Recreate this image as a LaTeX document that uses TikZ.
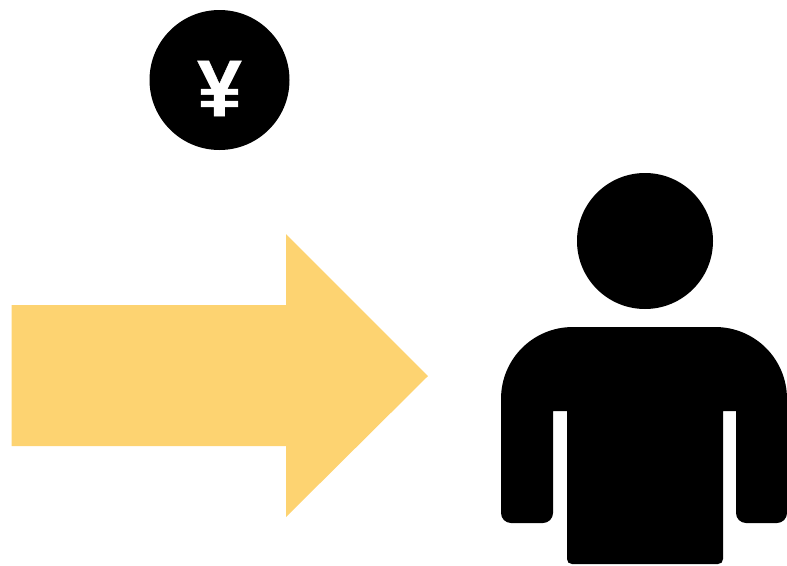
\documentclass[tikz,border=0pt]{standalone}
\usepackage{fontspec}
\setmainfont{Liberation Sans}
\newfontfamily\yenfont[BoldFont={Liberation Sans},BoldFeatures={FakeBold=1.5}]{Liberation Sans}
\newfontfamily\yenbold[FakeBold=0.6]{Liberation Sans Bold}
\definecolor{arrowgold}{HTML}{FDD371}
\tikzset{ink/.style={fill=black,draw=none}}
\begin{document}
\begin{tikzpicture}[x=1pt,y=-1pt]
\useasboundingbox (0,0) rectangle (787,565);
\fill[arrowgold] (11.5,305) -- (286,305) -- (286,234) -- (428,376) -- (286,517) -- (286,446) -- (11.5,446) -- cycle;
\fill[ink] (219.5,80) circle (70);
\node[text=white,inner sep=0pt,font=\yenbold\fontsize{80}{80}\selectfont] (yen) at (219.5,88.5) {¥};
\fill[ink] (645,241) circle (68);
\fill[ink] (501,399) .. controls (501,359) and (533,327) .. (573,327) -- (715,327)
  .. controls (755,327) and (787,359) .. (787,399) -- (787,513)
  .. controls (787,518.5) and (782.5,523) .. (777,523) -- (746,523)
  .. controls (740.5,523) and (736,518.5) .. (736,513) -- (736,411) -- (723,411) -- (723,559)
  .. controls (723,562) and (721,564) .. (718,564) -- (572,564)
  .. controls (569,564) and (567,562) .. (567,559) -- (567,411) -- (553,411) -- (553,513)
  .. controls (553,518.5) and (548.5,523) .. (543,523) -- (511,523)
  .. controls (505.5,523) and (501,518.5) .. (501,513) -- cycle;
\end{tikzpicture}
\end{document}
